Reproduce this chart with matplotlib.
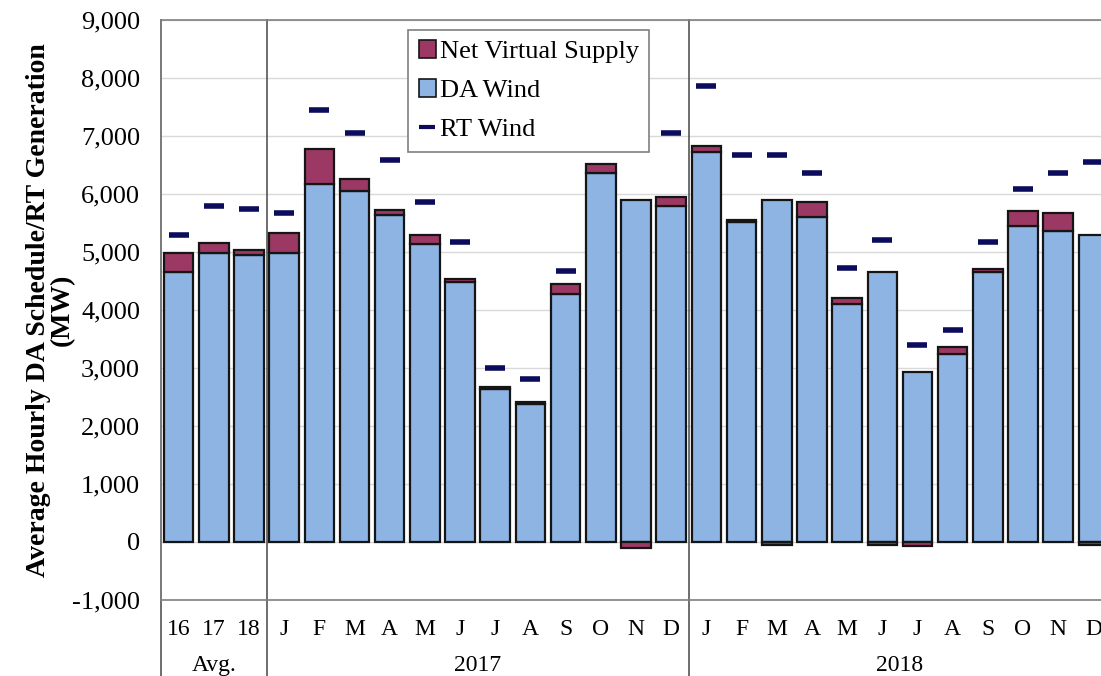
import numpy as np
import matplotlib
matplotlib.use("Agg")
import matplotlib.pyplot as plt
from matplotlib.patches import Patch
from matplotlib.lines import Line2D
from matplotlib.ticker import FuncFormatter

cats = ['16', '17', '18',
        'J', 'F', 'M', 'A', 'M', 'J', 'J', 'A', 'S', 'O', 'N', 'D',
        'J', 'F', 'M', 'A', 'M', 'J', 'J', 'A', 'S', 'O', 'N', 'D']
da_wind = [4650, 4980, 4940,
           4990, 6180, 6050, 5630, 5145, 4490, 2630, 2385, 4275, 6370, 5890, 5790,
           6720, 5510, 5890, 5600, 4110, 4660, 2930, 3245, 4650, 5440, 5360, 5300]
net_virtual = [330, 170, 90,
               330, 590, 210, 90, 140, 40, 35, 25, 180, 140, -110, 150,
               100, 50, -60, 260, 90, -60, -75, 110, 55, 260, 320, -60]
rt_wind = [5290, 5790, 5735,
           5680, 7445, 7045, 6580, 5855, 5180, 3005, 2815, 4680, 7350, 7300, 7050,
           7860, 6665, 6665, 6355, 4730, 5215, 3400, 3660, 5180, 6080, 6355, 6560]
groups = ['Avg.', '2017', '2018']
group_span = [(0, 2), (3, 14), (15, 26)]

plt.rcParams['font.family'] = ['Liberation Serif', 'DejaVu Serif']

da = np.array(da_wind)
nvs = np.array(net_virtual)
x = np.arange(len(cats))

fig = plt.figure(figsize=(11.01, 6.76), dpi=100)
ax = fig.add_axes([161 / 1101, 76 / 676, 950 / 1101, 580 / 676])

blue = '#8db4e3'
maroon = '#9c3864'
navy = '#0c0c5c'

ax.bar(x, da, width=0.84, color=blue, edgecolor='#151515', linewidth=1.6, zorder=2)
nvs_bottom = np.where(nvs >= 0, da, 0)
ax.bar(x, nvs, bottom=nvs_bottom, width=0.84, color=maroon, edgecolor='#151515',
       linewidth=1.6, zorder=2)
ax.plot(x, rt_wind, linestyle='none', marker='_', markersize=15, markeredgewidth=4,
        color=navy, zorder=3)

ax.set_xlim(-0.5, len(cats) - 0.5)
ax.set_ylim(-1000, 9000)
ax.set_yticks(np.arange(-1000, 9001, 1000))
ax.yaxis.set_major_formatter(FuncFormatter(lambda v, p: f'{int(v):,}'))
ax.grid(axis='y', color='#d9d9d9', linewidth=1, zorder=0)
ax.set_axisbelow(True)
ax.tick_params(axis='y', length=0, labelsize=19, pad=15)
ax.set_xticks(x)
ax.set_xticklabels(cats)
ax.tick_params(axis='x', length=0, labelsize=17, pad=14)
for s in ax.spines.values():
    s.set_color('#7f7f7f')
    s.set_linewidth(1.2)

ax.set_ylabel('Average Hourly DA Schedule/RT Generation\n(MW)', fontsize=20,
              fontweight='bold', labelpad=-2, linespacing=0.95)

# group separators running down through the label area
trans = ax.get_xaxis_transform()
for b in [-0.5, 2.5, 14.5]:
    ax.plot([b, b], [1, -0.14], transform=trans, color='#555555', linewidth=1.2,
            clip_on=False, zorder=1)
for name, (a, b) in zip(groups, group_span):
    ax.text((a + b) / 2, -0.113, name, transform=trans, ha='center', va='center',
            fontsize=17)

handles = [Patch(facecolor=maroon, edgecolor='#151515', linewidth=1.2),
           Patch(facecolor=blue, edgecolor='#151515', linewidth=1.2),
           Line2D([], [], linestyle='none', marker='_', markersize=11,
                  markeredgewidth=3, color=navy)]
leg = ax.legend(handles, ['Net Virtual Supply', 'DA Wind', 'RT Wind'],
                loc='upper left', bbox_to_anchor=(0.26, 0.983), borderaxespad=0,
                fontsize=19, frameon=True, fancybox=False, framealpha=1,
                handlelength=0.65, handleheight=0.65, handletextpad=0.15,
                labelspacing=0.6, borderpad=0.4)
leg.get_frame().set_edgecolor('#7f7f7f')
leg.get_frame().set_linewidth(1.2)
leg.set_zorder(5)

fig.savefig('out.png', dpi=100)
